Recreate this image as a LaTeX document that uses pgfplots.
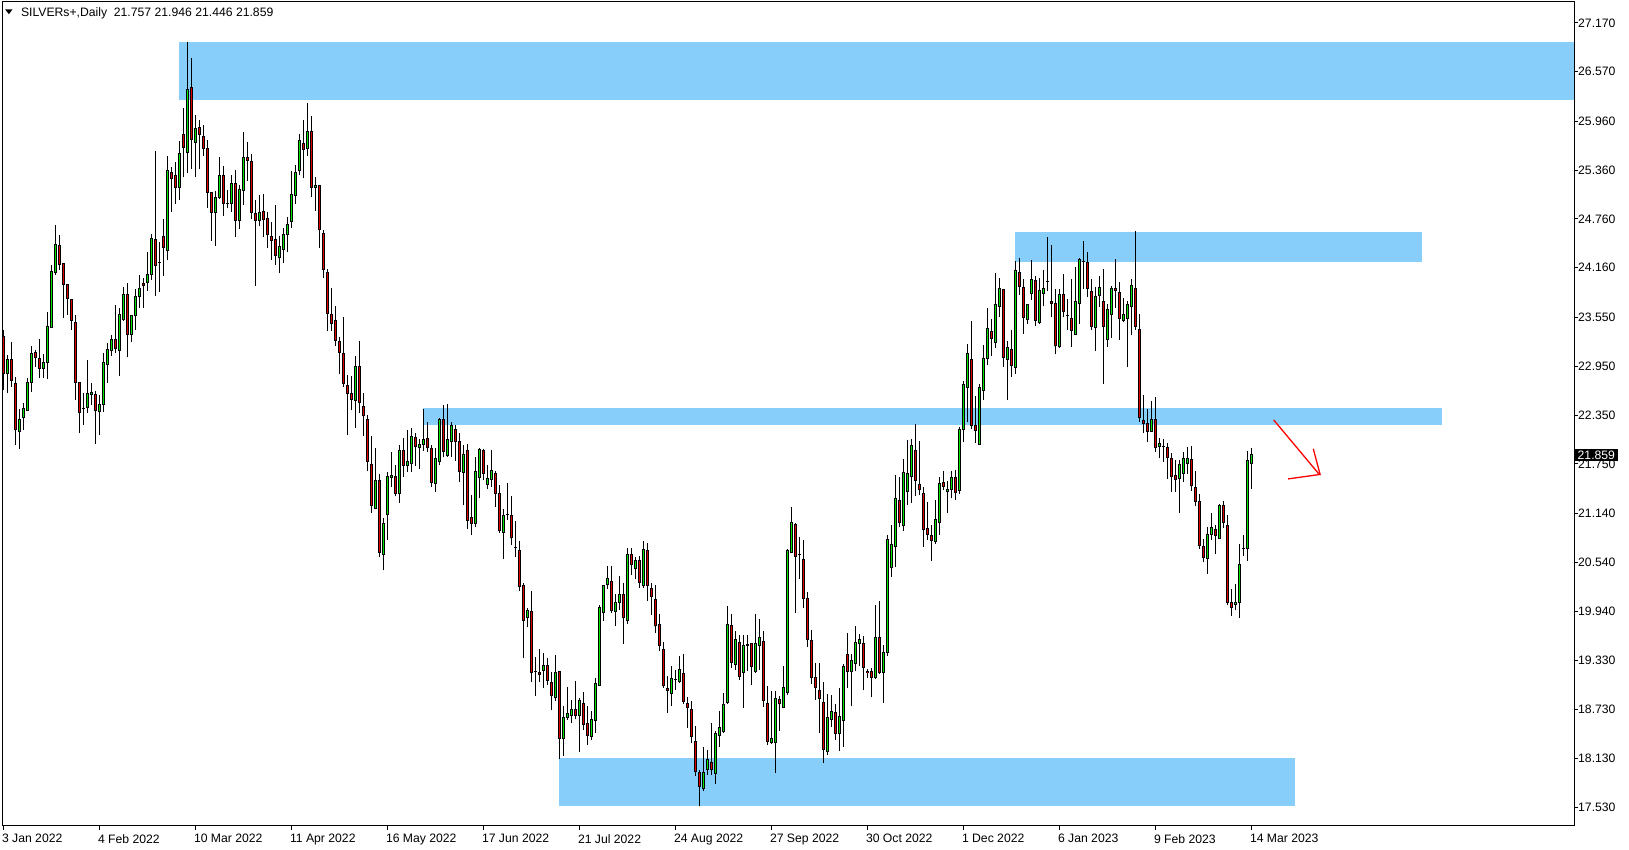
\documentclass[border=0pt]{standalone}
\usepackage{fontspec}
\setmainfont{Liberation Sans}
\usepackage{pgfplots}
\usepackage{pgfplotstable}
\pgfplotsset{compat=1.18}
\definecolor{zone}{RGB}{135,206,250}
\definecolor{bull}{RGB}{0,230,0}
\definecolor{bear}{RGB}{225,0,0}
\pgfplotstableread{
i o h l c
0 23.31 23.40 22.66 22.86
1 22.86 23.09 22.62 23.03
2 23.03 23.25 22.70 22.78
3 22.74 22.82 21.98 22.17
4 22.15 22.43 21.93 22.29
5 22.32 22.50 22.17 22.43
6 22.41 22.80 22.40 22.75
7 22.75 23.20 22.63 23.11
8 23.12 23.15 22.94 23.06
9 23.05 23.29 22.80 22.92
10 22.92 23.10 22.81 22.99
11 22.99 23.62 22.79 23.44
12 23.43 24.19 23.43 24.11
13 24.10 24.69 24.07 24.45
14 24.44 24.56 24.13 24.20
15 24.21 24.21 23.54 23.96
16 23.96 23.96 23.58 23.78
17 23.77 23.77 23.40 23.51
18 23.49 23.58 22.53 22.75
19 22.75 22.76 22.13 22.38
20 22.43 22.62 22.23 22.43
21 22.44 23.03 22.37 22.62
22 22.60 22.74 22.47 22.63
23 22.60 22.65 21.99 22.40
24 22.39 22.60 22.10 22.48
25 22.48 23.11 22.39 22.99
26 22.97 23.24 22.75 23.16
27 23.14 23.33 23.07 23.28
28 23.28 23.70 23.11 23.17
29 23.14 23.66 22.83 23.58
30 23.53 23.93 23.50 23.83
31 23.83 23.97 23.06 23.34
32 23.34 23.58 23.25 23.57
33 23.57 23.90 23.40 23.81
34 23.81 24.07 23.66 23.90
35 23.97 24.04 23.67 23.94
36 23.98 24.36 23.88 24.08
37 24.08 24.58 24.01 24.52
38 24.51 25.60 23.81 24.19
39 24.23 24.48 23.86 24.23
40 24.54 24.76 24.06 24.41
41 24.37 25.53 24.25 25.35
42 25.33 25.40 24.84 25.26
43 25.29 25.46 24.95 25.15
44 25.15 25.72 24.99 25.57
45 25.80 26.13 25.27 25.64
46 25.58 26.94 25.33 26.35
47 26.37 26.74 25.38 25.74
48 25.70 26.04 25.27 25.87
49 25.89 25.98 25.38 25.80
50 25.77 25.92 25.54 25.63
51 25.63 25.73 24.89 25.08
52 25.08 25.09 24.49 24.84
53 24.84 25.10 24.43 25.03
54 25.03 25.52 25.00 25.30
55 25.30 25.41 24.80 24.95
56 24.95 25.12 24.89 24.95
57 24.95 25.30 24.85 25.20
58 25.20 25.36 24.54 24.74
59 24.74 25.18 24.64 25.12
60 25.11 25.83 24.93 25.52
61 25.52 25.70 25.23 25.48
62 25.47 25.56 24.76 24.84
63 24.83 24.99 23.94 24.74
64 24.74 25.05 24.67 24.84
65 24.85 25.07 24.54 24.75
66 24.76 24.85 24.40 24.57
67 24.55 24.72 24.25 24.49
68 24.51 24.93 24.20 24.31
69 24.29 24.55 24.10 24.42
70 24.39 24.65 24.22 24.57
71 24.57 24.79 24.35 24.69
72 24.73 25.35 24.65 25.06
73 25.05 25.42 24.95 25.33
74 25.35 25.81 25.30 25.72
75 25.69 25.98 25.26 25.62
76 25.63 26.19 25.53 25.83
77 25.84 26.02 25.03 25.15
78 25.15 25.27 24.86 25.17
79 25.17 25.18 24.40 24.63
80 24.58 24.62 24.03 24.14
81 24.10 24.15 23.38 23.60
82 23.59 23.91 23.38 23.48
83 23.51 23.69 23.20 23.27
84 23.26 23.31 22.86 23.12
85 23.11 23.55 22.70 22.74
86 22.71 22.84 22.10 22.62
87 22.62 22.83 22.41 22.54
88 22.53 23.08 22.19 22.95
89 22.95 23.26 22.38 22.50
90 22.46 22.62 22.09 22.34
91 22.30 22.35 21.66 21.78
92 21.74 22.09 21.15 21.24
93 21.20 21.94 21.19 21.55
94 21.54 21.63 20.60 20.66
95 20.64 21.08 20.44 21.02
96 21.13 21.65 20.82 21.59
97 21.58 21.90 21.47 21.61
98 21.60 21.74 21.35 21.39
99 21.38 21.98 21.27 21.91
100 21.91 22.07 21.59 21.73
101 21.73 22.17 21.65 21.78
102 21.76 22.19 21.65 22.09
103 22.08 22.13 21.72 21.96
104 21.95 22.05 21.69 21.99
105 21.99 22.43 21.91 22.05
106 22.06 22.26 21.90 21.95
107 21.94 21.98 21.46 21.52
108 21.51 21.95 21.41 21.81
109 21.78 22.31 21.73 22.29
110 22.29 22.47 21.83 21.90
111 21.85 22.49 21.84 22.05
112 22.02 22.26 21.84 22.22
113 22.17 22.23 21.79 22.02
114 22.03 22.13 21.53 21.66
115 21.65 21.98 21.24 21.86
116 21.91 21.99 20.95 21.05
117 21.09 21.37 20.87 21.02
118 21.02 21.84 20.98 21.66
119 21.58 21.94 21.33 21.93
120 21.91 21.93 21.55 21.63
121 21.50 21.74 21.44 21.57
122 21.56 21.92 21.47 21.67
123 21.63 21.66 21.22 21.39
124 21.39 21.49 20.90 20.93
125 20.91 21.20 20.58 21.12
126 21.13 21.52 21.06 21.13
127 21.11 21.36 20.75 20.84
128 20.72 21.05 20.61 20.72
129 20.69 20.80 20.19 20.24
130 20.26 20.28 19.36 19.83
131 19.86 19.98 19.74 19.95
132 19.93 20.19 19.07 19.18
133 19.20 19.38 18.90 19.20
134 19.19 19.47 19.07 19.16
135 19.21 19.43 19.00 19.27
136 19.27 19.37 19.03 19.09
137 19.06 19.19 18.72 18.90
138 18.88 19.40 18.84 19.19
139 19.20 19.20 18.12 18.38
140 18.38 18.77 18.16 18.63
141 18.63 19.01 18.60 18.68
142 18.66 18.85 18.56 18.73
143 18.73 19.08 18.61 18.66
144 18.66 18.87 18.21 18.84
145 18.81 18.94 18.48 18.55
146 18.56 18.77 18.30 18.41
147 18.40 18.71 18.35 18.61
148 18.60 19.12 18.44 19.05
149 19.03 20.02 19.02 19.99
150 19.92 20.26 19.82 20.25
151 20.27 20.49 20.21 20.34
152 20.30 20.49 19.92 19.95
153 19.93 20.15 19.76 20.04
154 20.05 20.37 19.95 20.15
155 20.15 20.29 19.54 19.86
156 19.82 20.72 19.78 20.64
157 20.64 20.72 20.39 20.51
158 20.47 20.60 20.33 20.56
159 20.56 20.62 20.23 20.29
160 20.25 20.80 20.22 20.70
161 20.68 20.78 20.07 20.25
162 20.22 20.28 19.89 20.12
163 20.08 20.26 19.67 19.76
164 19.77 19.91 19.45 19.52
165 19.47 19.56 18.99 19.02
166 18.99 19.14 18.69 18.96
167 18.93 19.27 18.78 19.11
168 19.10 19.22 18.97 19.10
169 19.07 19.39 19.06 19.22
170 19.17 19.41 18.80 18.83
171 18.81 18.89 18.50 18.75
172 18.73 18.83 18.32 18.40
173 18.34 18.53 17.91 17.97
174 17.96 17.99 17.54 17.78
175 17.76 18.27 17.73 17.96
176 17.99 18.23 17.93 18.12
177 18.08 18.56 17.92 17.99
178 17.95 18.47 17.82 18.44
179 18.41 18.71 18.27 18.51
180 18.46 18.93 18.44 18.79
181 18.82 20.00 18.80 19.77
182 19.76 19.91 19.24 19.31
183 19.28 19.69 19.22 19.59
184 19.56 19.65 19.09 19.14
185 19.18 19.65 18.75 19.52
186 19.52 19.65 19.20 19.53
187 19.54 19.54 19.03 19.26
188 19.20 19.90 19.18 19.54
189 19.52 19.84 19.22 19.61
190 19.57 19.70 18.76 18.84
191 18.80 19.02 18.30 18.34
192 18.33 18.96 18.31 18.37
193 18.32 18.96 17.95 18.87
194 18.85 18.90 18.47 18.80
195 18.75 19.27 18.75 19.00
196 18.94 20.70 18.91 20.68
197 20.66 21.22 20.65 21.03
198 21.01 21.02 19.92 20.61
199 20.63 20.85 20.34 20.63
200 20.58 20.81 19.98 20.09
201 20.09 20.17 19.50 19.59
202 19.58 19.71 19.05 19.12
203 19.13 19.30 18.85 19.00
204 18.97 19.30 18.44 18.87
205 18.82 19.07 18.07 18.24
206 18.21 18.92 18.17 18.63
207 18.61 18.91 18.52 18.71
208 18.70 18.80 18.35 18.44
209 18.44 18.99 18.22 18.64
210 18.60 19.29 18.27 19.26
211 19.41 19.67 19.00 19.20
212 19.20 19.41 18.77 19.33
213 19.30 19.76 19.20 19.56
214 19.54 19.66 19.27 19.59
215 19.54 19.63 18.97 19.25
216 19.20 19.23 19.12 19.18
217 19.20 19.24 18.88 19.13
218 19.13 20.02 19.11 19.62
219 19.62 20.06 19.17 19.18
220 19.18 19.52 18.81 19.43
221 19.43 20.88 19.39 20.82
222 20.48 21.00 20.36 20.76
223 20.73 21.61 20.48 21.33
224 21.30 21.59 20.97 21.03
225 20.99 21.81 20.93 21.65
226 21.41 22.04 21.24 21.63
227 21.60 22.06 21.27 21.97
228 21.91 22.24 21.36 21.54
229 21.50 22.03 21.37 21.44
230 21.38 21.46 20.73 20.94
231 20.95 21.28 20.81 20.88
232 20.87 21.00 20.56 20.81
233 20.79 21.31 20.77 21.07
234 21.03 21.59 20.88 21.51
235 21.52 21.66 21.43 21.47
236 21.41 21.54 21.14 21.44
237 21.44 21.66 21.33 21.58
238 21.58 21.68 21.30 21.40
239 21.42 22.20 21.38 22.17
240 22.17 22.77 22.02 22.72
241 22.69 23.22 22.26 23.11
242 23.03 23.50 22.18 22.22
243 22.22 22.59 22.01 22.16
244 21.99 22.73 21.98 22.69
245 22.65 23.21 22.53 23.04
246 23.05 23.66 22.96 23.41
247 23.38 23.53 23.08 23.29
248 23.24 24.10 23.17 23.71
249 23.69 24.03 23.56 23.91
250 23.89 23.90 22.94 23.06
251 23.03 23.26 22.53 23.18
252 23.16 23.40 22.82 22.96
253 22.94 24.24 22.86 24.13
254 24.10 24.28 23.83 23.93
255 23.92 24.02 23.35 23.55
256 23.53 23.72 23.47 23.71
257 23.85 24.26 23.76 24.02
258 24.00 24.06 23.44 23.51
259 23.49 24.04 23.47 23.88
260 23.85 24.13 23.69 23.91
261 23.99 24.54 23.87 23.99
262 23.75 24.44 23.55 23.72
263 23.72 23.90 23.10 23.20
264 23.19 23.90 23.18 23.83
265 23.83 24.08 23.55 23.62
266 23.57 23.78 23.40 23.57
267 23.54 24.02 23.19 23.39
268 23.34 24.17 23.33 23.75
269 23.72 24.28 23.47 24.26
270 24.24 24.49 23.90 24.24
271 24.23 24.35 23.80 23.90
272 23.87 24.02 23.40 23.44
273 23.43 23.93 23.14 23.81
274 23.82 24.06 23.68 23.92
275 23.74 24.14 22.73 23.44
276 23.28 23.72 23.19 23.65
277 23.59 23.94 23.30 23.90
278 23.90 24.27 23.67 23.88
279 23.86 23.99 23.27 23.54
280 23.51 23.79 23.49 23.59
281 23.54 23.75 22.94 23.71
282 23.69 24.02 23.33 23.94
283 23.91 24.61 23.40 23.44
284 23.40 23.59 22.27 22.32
285 22.28 22.60 22.13 22.24
286 22.25 22.43 22.02 22.15
287 22.15 22.52 22.14 22.30
288 22.29 22.57 21.89 21.95
289 21.96 22.07 21.82 22.00
290 21.96 22.06 21.77 21.96
291 21.95 22.01 21.57 21.83
292 21.82 21.88 21.40 21.59
293 21.61 21.80 21.41 21.56
294 21.57 21.80 21.15 21.74
295 21.63 21.89 21.53 21.81
296 21.76 21.96 21.62 21.82
297 21.80 21.97 21.42 21.48
298 21.46 21.66 21.23 21.29
299 21.29 21.38 20.70 20.75
300 20.74 20.83 20.54 20.60
301 20.59 20.98 20.40 20.88
302 20.88 21.15 20.81 20.97
303 20.94 21.00 20.64 20.87
304 20.83 21.26 20.83 21.24
305 21.24 21.29 20.96 21.03
306 20.99 21.12 20.01 20.04
307 20.05 20.21 19.88 19.99
308 20.02 20.27 19.95 20.05
309 20.04 20.77 19.86 20.51
310 20.71 20.88 20.62 20.71
311 20.71 21.91 20.56 21.79
312 21.757 21.946 21.446 21.859
}\candles
\begin{document}
\begin{tikzpicture}[x=1pt,y=1pt]
\useasboundingbox[fill=white] (-2,-24) rectangle (1627,826);
\begin{axis}[
  at={(0,0)}, anchor=south west,
  scale only axis, width=1572pt, height=824pt,
  xmin=-0.325, xmax=392.675, ymin=17.299, ymax=27.427,
  axis line style={black, line width=1pt},
  xtick={0,24,...,312},
  xticklabels={3 Jan 2022,4 Feb 2022,10 Mar 2022,11 Apr 2022,16 May 2022,17 Jun 2022,21 Jul 2022,24 Aug 2022,27 Sep 2022,30 Oct 2022,1 Dec 2022,6 Jan 2023,9 Feb 2023,14 Mar 2023},
  ytick={17.53,18.13,18.73,19.33,19.94,20.54,21.14,21.75,22.35,22.95,23.55,24.16,24.76,25.36,25.96,26.57,27.17},
  yticklabels={17.530,18.130,18.730,19.330,19.940,20.540,21.140,21.750,22.350,22.950,23.550,24.160,24.760,25.360,25.960,26.570,27.170},
  extra y ticks={21.859}, extra y tick labels={21.859},
  extra y tick style={yticklabel style={fill=black, text=white, inner xsep=2.5pt, inner ysep=1.5pt, xshift=-3pt}},
  xtick pos=lower, ytick pos=right, yticklabel pos=right,
  tick align=outside, major tick length=4pt,
  tick style={black, line width=1pt},
  ticklabel style={font=\fontsize{12.2}{14}\selectfont},
  xticklabel style={anchor=north west, inner sep=0pt, xshift=-1.5pt, yshift=-4pt},
  yticklabel style={anchor=west, inner sep=0pt},
  /pgf/number format/assume math mode=true,
  clip=true,
]
% zones
\addplot[fill=zone, draw=none, forget plot] coordinates {(44,26.22) (392.675,26.22) (392.675,26.935) (44,26.935)};
\addplot[fill=zone, draw=none, forget plot] coordinates {(253,24.235) (354.7,24.235) (354.7,24.595) (253,24.595)};
\addplot[fill=zone, draw=none, forget plot] coordinates {(105,22.23) (359.7,22.23) (359.7,22.435) (105,22.435)};
\addplot[fill=zone, draw=none, forget plot] coordinates {(139,17.545) (322.8,17.545) (322.8,18.135) (139,18.135)};
% wicks
\addplot[draw=none, mark=none, forget plot,
  error bars/.cd, y dir=plus, y explicit, error mark=none,
  error bar style={draw=black, line width=1pt}]
  table[x=i, y=l, y error plus expr={\thisrow{h}-\thisrow{l}}] {\candles};
% body outline
\addplot[draw=none, mark=none, forget plot,
  error bars/.cd, y dir=plus, y explicit, error mark=none,
  error bar style={draw=black, line width=3pt}]
  table[x=i, y expr={min(\thisrow{o},\thisrow{c})-0.00615}, y error plus expr={abs(\thisrow{c}-\thisrow{o})+0.0123}] {\candles};
% bull fill
\addplot[draw=none, mark=none, forget plot,
  error bars/.cd, y dir=plus, y explicit, error mark=none,
  error bar style={draw=bull, line width=1pt}]
  table[x=i, y expr={\thisrow{o}+0.00615}, y error plus expr={max(0,\thisrow{c}-\thisrow{o}-0.0123)}] {\candles};
% bear fill
\addplot[draw=none, mark=none, forget plot,
  error bars/.cd, y dir=plus, y explicit, error mark=none,
  error bar style={draw=bear, line width=1pt}]
  table[x=i, y expr={\thisrow{c}+0.00615}, y error plus expr={max(0,\thisrow{o}-\thisrow{c}-0.0123)}] {\candles};
% arrow
\addplot[red, line width=1.3pt, mark=none, forget plot] coordinates {(317.6,22.29) (329.0,21.62)};
\addplot[red, line width=1.3pt, mark=none, forget plot] coordinates {(321.2,21.565) (329.2,21.62) (327.5,21.935)};
\end{axis}
\fill[black] (3.2,816.6) -- (10.5,816.6) -- (6.85,811.8) -- cycle;
\node[anchor=west, inner sep=0pt, font=\fontsize{12.2}{14}\selectfont] at (18.8,812.8) {SILVERs+,Daily\hspace{0.55em}21.757 21.946 21.446 21.859};
\end{tikzpicture}
\end{document}
